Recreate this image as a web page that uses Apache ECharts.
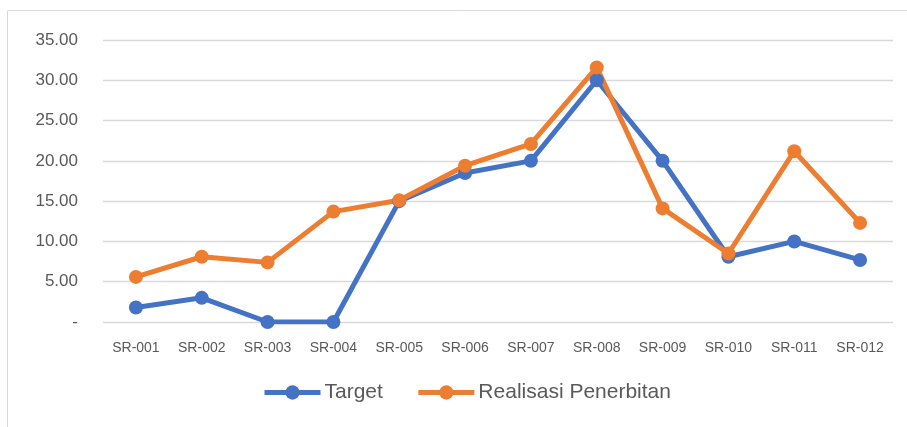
<!DOCTYPE html>
<html><head><meta charset="utf-8">
<script src="https://cdn.jsdelivr.net/npm/echarts@6/dist/echarts.min.js"></script>
<style>html,body{margin:0;padding:0;background:#fff}#c{width:907px;height:427px}</style>
</head><body><div id="c"></div>
<script>
const categories = ['SR-001','SR-002','SR-003','SR-004','SR-005','SR-006','SR-007','SR-008','SR-009','SR-010','SR-011','SR-012'];
const target = [1.8, 3.0, 0, 0, 15.0, 18.5, 20.0, 30.0, 20.0, 8.1, 10.0, 7.7];
const realisasi = [5.6, 8.1, 7.4, 13.7, 15.1, 19.4, 22.1, 31.6, 14.1, 8.5, 21.2, 12.3];
const seriesNames = ['Target', 'Realisasi Penerbitan'];

const chart = echarts.init(document.getElementById('c'), null, {renderer:'canvas'});
const font = 'Liberation Sans, Arial, sans-serif';
chart.setOption({
  animation: false,
  graphic: [{type:'rect', shape:{x:7.5, y:10.5, width:905, height:430}, style:{fill:'none', stroke:'#d9d9d9', lineWidth:1}, silent:true}],
  grid: {left:103, right:14, top:40, bottom:105},
  legend: {
    data: seriesNames, top: 377, left: 257, itemWidth: 56, itemHeight: 18, itemGap: 33,
    lineStyle: {width: 5},
    textStyle: {color:'#595959', fontSize:21, fontFamily:font, padding:[0,0,0,-1]}
  },
  xAxis: {
    type:'category', data: categories, boundaryGap:true,
    axisLine:{show:false}, axisTick:{show:false},
    axisLabel:{color:'#595959', fontSize:14, fontFamily:font, margin:19}
  },
  yAxis: {
    type:'value', min:0, max:35, interval:5,
    axisLine:{show:false}, axisTick:{show:false},
    splitLine:{lineStyle:{color:'#d9d9d9', width:1.3}},
    axisLabel:{color:'#595959', fontSize:17, fontFamily:font, margin:25,
      formatter: v => v === 0 ? '-' : v.toFixed(2)}
  },
  series: [
    {name:seriesNames[0], type:'line', data:target, symbol:'circle', symbolSize:14,
     lineStyle:{color:'#4472C4', width:5}, itemStyle:{color:'#4472C4'}},
    {name:seriesNames[1], type:'line', data:realisasi, symbol:'circle', symbolSize:14,
     lineStyle:{color:'#ED7D31', width:5}, itemStyle:{color:'#ED7D31'}}
  ]
});
</script></body></html>
